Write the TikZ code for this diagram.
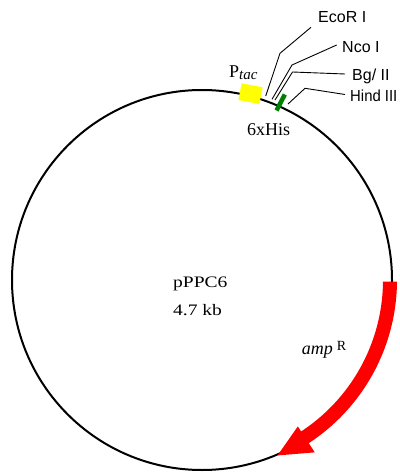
\documentclass[tikz,border=0pt]{standalone}
\usepackage{fontspec}
\setmainfont{Liberation Serif}
\newfontfamily\labsans{Liberation Sans}
\newfontfamily\wideserif[FakeStretch=1.22]{Liberation Serif}
\definecolor{ampred}{RGB}{255,0,0}
\definecolor{ptacyellow}{RGB}{255,255,0}
\definecolor{hisgreen}{RGB}{0,128,0}
\begin{document}
\begin{tikzpicture}[x=1pt,y=-1pt,
  sitelabel/.style={font=\labsans\fontsize{16}{16}\selectfont, anchor=base west, inner sep=0pt},
  seriflabel/.style={font=\fontsize{18}{18}\selectfont, anchor=base west, inner sep=0pt},
  widelabel/.style={font=\wideserif\fontsize{16}{16}\selectfont, anchor=base west, inner sep=0pt},
  leader/.style={line width=0.9pt, black},
  backbone/.style={line width=2pt, black}
]
\useasboundingbox (0,0) rectangle (399,473);
\fill[white] (0,0) rectangle (399,473);
\coordinate (c) at (202,280);
% plasmid backbone
\draw[backbone] (c) circle[radius=190pt];
% ampR arrow
\fill[ampred] plot[domain=0.5:56.8,samples=50] ({202+195*cos(\x)},{280+195*sin(\x)})
  -- ({202+206*cos(56.8)},{280+206*sin(56.8)})
  -- ({202+191*cos(66.7)},{280+191*sin(66.7)})
  -- ({202+175*cos(56.8)},{280+175*sin(56.8)})
  -- ({202+181*cos(56.8)},{280+181*sin(56.8)})
  -- plot[domain=56.8:0.5,samples=50] ({202+181*cos(\x)},{280+181*sin(\x)}) -- cycle;
% Ptac box
\fill[ptacyellow] (241.7,83.3) -- (262.7,87.3) -- (259.3,104) -- (238.3,100) -- cycle;
% 6xHis tick
\draw[hisgreen, line width=4.5pt] (276.5,110.5) -- (284.8,94.5);
% labels
\node[sitelabel] (ecor) at (318,23) {EcoR I};
\node[sitelabel] (nco) at (342,53) {Nco I};
\node[sitelabel] (bgl) at (352,81) {Bg/ II};
\node[sitelabel] (hind) at (350,102) {\scalebox{0.93}[1]{Hind III}};
\node[seriflabel] (ptac) at (229,77.7) {P\raisebox{-1.5pt}{\fontsize{15}{15}\selectfont\itshape tac}};
\node[seriflabel] (his) at (247,136) {6xHis};
\node[widelabel] (pname) at (173,287) {pPPC6};
\node[widelabel] (psize) at (173,315.7) {4.7 kb};
\node[seriflabel] (amp) at (301.7,354.3) {\itshape amp\hspace{4pt}\raisebox{4pt}{\upshape\fontsize{14}{14}\selectfont R}};
% leader lines
\coordinate (ecorsite) at (265.7,96);
\coordinate (ecorbend) at (280,53.3);
\coordinate (ecorend) at (311,27.3);
\coordinate (ncosite) at (272,99.3);
\coordinate (ncobend) at (292,65);
\coordinate (ncoend) at (336.7,45);
\coordinate (bglsite) at (275,100);
\coordinate (bglbend) at (292.5,72);
\coordinate (bglend) at (345,74);
\coordinate (hindsite) at (288,104);
\coordinate (hindbend) at (305,88.3);
\coordinate (hindend) at (345,94.5);
\draw[leader] (ecorsite) -- (ecorbend) -- (ecorend);
\draw[leader] (ncosite) -- (ncobend) -- (ncoend);
\draw[leader] (bglsite) -- (bglbend) -- (bglend);
\draw[leader] (hindsite) -- (hindbend) -- (hindend);
\end{tikzpicture}
\end{document}
